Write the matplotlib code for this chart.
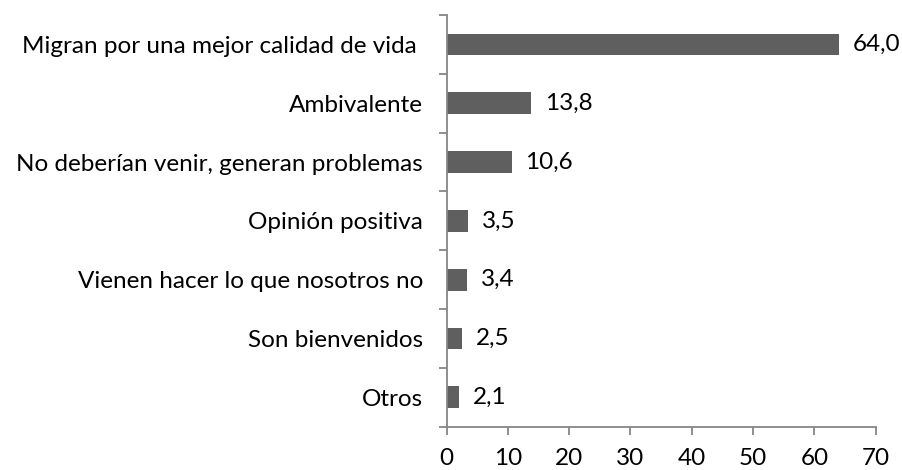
import matplotlib
matplotlib.use("Agg")
import matplotlib.pyplot as plt

categories = ["Migran por una mejor calidad de vida ", "Ambivalente",
              "No deberían venir, generan problemas", "Opinión positiva",
              "Vienen hacer lo que nosotros no", "Son bienvenidos", "Otros"]
values = [64.0, 13.8, 10.6, 3.5, 3.4, 2.5, 2.1]
xticks = [0, 10, 20, 30, 40, 50, 60, 70]

plt.rcParams['font.family'] = ['Lato', 'DejaVu Sans']
FS = 17.5

fig = plt.figure(figsize=(9.03, 4.70), dpi=100)
ax = fig.add_axes([0.4945, 0.0921, 0.9698 - 0.4945, 0.968 - 0.0921])

ypos = list(range(len(categories)))
ax.barh(ypos, values, height=0.37, color='#5f5f5f')
ax.set_ylim(len(categories) - 0.5, -0.5)
ax.set_xlim(0, 70)
ax.set_xticks(xticks)
ax.set_xticklabels([str(t) for t in xticks], fontsize=FS)

ax.set_yticks([y - 0.5 for y in range(len(categories) + 1)])
ax.set_yticklabels([])
ax.set_yticks(ypos, minor=True)
ax.set_yticklabels(categories, minor=True, fontsize=FS)
ax.tick_params(axis='y', which='minor', length=0, pad=17)
ax.tick_params(axis='y', which='major', length=6, color='#868686', width=1.3)
ax.tick_params(axis='x', length=6, color='#868686', width=1.3, pad=9)

for s in ['top', 'right']:
    ax.spines[s].set_visible(False)
for s in ['left', 'bottom']:
    ax.spines[s].set_color('#868686')
    ax.spines[s].set_linewidth(1.3)

for y, v in zip(ypos, values):
    ax.annotate(f"{v:.1f}".replace('.', ','), xy=(v, y), xytext=(10, 0),
                textcoords='offset points', va='center', ha='left', fontsize=FS)

fig.savefig("out.png", dpi=100)
